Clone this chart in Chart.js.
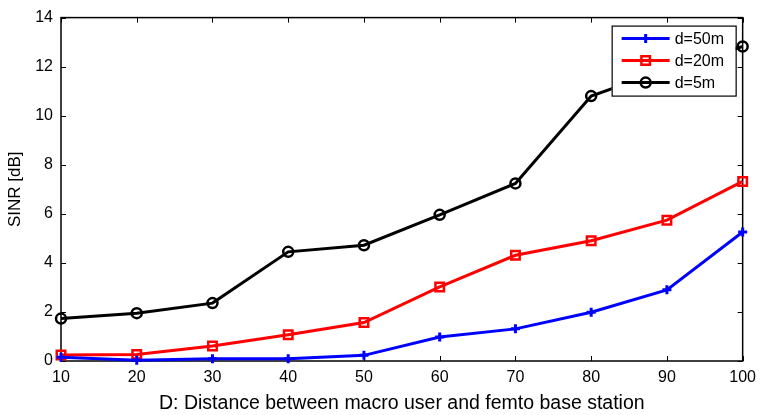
<!DOCTYPE html>
<html>
<head>
<meta charset="utf-8">
<script src="https://cdn.jsdelivr.net/npm/chart.js@4/dist/chart.umd.min.js"></script>
<style>
  html, body { margin: 0; padding: 0; background: #fff; }
  #sinrChart { display: block; }
</style>
</head>
<body>
<canvas id="sinrChart" width="763" height="415"></canvas>
<script>
// distance D between macro user and femto base station (m)
const distances = [10, 20, 30, 40, 50, 60, 70, 80, 90, 100];

// SINR in dB for each femto distance d
const sinr50 = [0.15, 0.03, 0.09, 0.09, 0.23, 0.98, 1.31, 1.99, 2.90, 5.26];
const sinr20 = [0.24, 0.27, 0.61, 1.07, 1.57, 3.02, 4.31, 4.90, 5.74, 7.32];
const sinr5  = [1.73, 1.95, 2.36, 4.45, 4.72, 5.96, 7.24, 10.8, 11.9, 12.82];

const seriesNames = ['d=50m', 'd=20m', 'd=5m'];
const xTicks = [10, 20, 30, 40, 50, 60, 70, 80, 90, 100];
const yTicks = [0, 2, 4, 6, 8, 10, 12, 14];

const FONT = '"Liberation Sans", Arial, sans-serif';

function toPoints(ys) {
  return distances.map(function (x, i) { return { x: x, y: ys[i] }; });
}

// box around the plot, with the tick marks pointing inward on all four sides
const boxPlugin = {
  id: 'boxPlugin',
  beforeDatasetsDraw: function (chart) {
    const ctx = chart.ctx;
    const a = chart.chartArea;
    const xs = chart.scales.x;
    const ys = chart.scales.y;
    const len = 5;
    ctx.save();
    ctx.strokeStyle = '#000';
    ctx.lineWidth = 1;
    ctx.beginPath();
    xTicks.forEach(function (v) {
      const px = Math.round(xs.getPixelForValue(v)) + 0.5;
      ctx.moveTo(px, a.bottom); ctx.lineTo(px, a.bottom - len);
      ctx.moveTo(px, a.top); ctx.lineTo(px, a.top + len);
    });
    yTicks.forEach(function (v) {
      const py = Math.round(ys.getPixelForValue(v)) + 0.5;
      ctx.moveTo(a.left, py); ctx.lineTo(a.left + len, py);
      ctx.moveTo(a.right, py); ctx.lineTo(a.right - len, py);
    });
    ctx.stroke();
    ctx.lineWidth = 1.5;
    ctx.strokeRect(a.left, a.top, a.right - a.left, a.bottom - a.top);
    ctx.restore();
  }
};

// legend box in the upper right corner, drawn over the lines
const legendBox = {
  id: 'legendBox',
  afterDatasetsDraw: function (chart) {
    const ctx = chart.ctx;
    const a = chart.chartArea;
    const x0 = a.right - 131, y0 = a.top + 8, w = 124, h = 70;
    ctx.save();
    ctx.fillStyle = '#fff';
    ctx.fillRect(x0, y0, w, h);
    ctx.strokeStyle = '#000';
    ctx.lineWidth = 1.2;
    ctx.strokeRect(x0 + 0.5, y0 + 0.5, w, h);
    chart.data.datasets.forEach(function (ds, i) {
      const cy = y0 + 13 + i * 22;
      ctx.strokeStyle = ds.borderColor;
      ctx.lineWidth = ds.borderWidth;
      ctx.beginPath();
      ctx.moveTo(x0 + 10, cy);
      ctx.lineTo(x0 + 58, cy);
      ctx.stroke();
      ctx.fillStyle = 'rgba(0,0,0,0)';
      ctx.lineWidth = ds.pointBorderWidth;
      Chart.helpers.drawPoint(ctx, {
        pointStyle: ds.pointStyle,
        radius: ds.pointRadius,
        borderWidth: ds.pointBorderWidth
      }, x0 + 34, cy);
      ctx.fillStyle = '#000';
      ctx.font = '16px ' + FONT;
      ctx.textBaseline = 'middle';
      ctx.textAlign = 'left';
      ctx.fillText(ds.label, x0 + 63, cy + 1);
    });
    ctx.restore();
  }
};

const ctx = document.getElementById('sinrChart').getContext('2d');

new Chart(ctx, {
  type: 'line',
  data: {
    datasets: [
      {
        label: seriesNames[0],
        data: toPoints(sinr50),
        borderColor: '#0000ff',
        backgroundColor: '#0000ff',
        borderWidth: 3,
        pointStyle: 'cross',
        pointRadius: 4.5,
        pointBorderWidth: 3,
        pointBorderColor: '#0000ff'
      },
      {
        label: seriesNames[1],
        data: toPoints(sinr20),
        borderColor: '#ff0000',
        backgroundColor: 'rgba(0,0,0,0)',
        borderWidth: 3,
        pointStyle: 'rect',
        pointRadius: 6,
        pointBorderWidth: 2.5,
        pointBorderColor: '#ff0000'
      },
      {
        label: seriesNames[2],
        data: toPoints(sinr5),
        borderColor: '#000000',
        backgroundColor: 'rgba(0,0,0,0)',
        borderWidth: 3,
        pointStyle: 'circle',
        pointRadius: 5,
        pointBorderWidth: 2.5,
        pointBorderColor: '#000000'
      }
    ]
  },
  options: {
    responsive: false,
    animation: false,
    clip: false,
    layout: { padding: { left: 0, right: 19, top: 15, bottom: 0 } },
    plugins: {
      legend: { display: false },
      tooltip: { enabled: false }
    },
    scales: {
      x: {
        type: 'linear',
        min: 10,
        max: 100,
        afterFit: function (scale) { scale.height = 54; },
        afterBuildTicks: function (scale) {
          scale.ticks = xTicks.map(function (v) { return { value: v }; });
        },
        grid: { display: false, drawTicks: false },
        border: { display: false },
        ticks: {
          color: '#000',
          padding: 7,
          maxRotation: 0,
          font: { family: FONT, size: 16 }
        },
        title: {
          display: true,
          text: 'D: Distance between macro user and femto base station',
          color: '#000',
          padding: { top: 3, bottom: 0 },
          font: { family: FONT, size: 19.5 }
        }
      },
      y: {
        type: 'linear',
        min: 0,
        max: 14,
        afterFit: function (scale) { scale.width = 61; },
        afterBuildTicks: function (scale) {
          scale.ticks = yTicks.map(function (v) { return { value: v }; });
        },
        grid: { display: false, drawTicks: false },
        border: { display: false },
        ticks: {
          color: '#000',
          padding: 8,
          font: { family: FONT, size: 16 }
        },
        title: {
          display: true,
          text: 'SINR [dB]',
          color: '#000',
          padding: { top: 5, bottom: 0 },
          font: { family: FONT, size: 17 }
        }
      }
    }
  },
  plugins: [boxPlugin, legendBox]
});
</script>
</body>
</html>
